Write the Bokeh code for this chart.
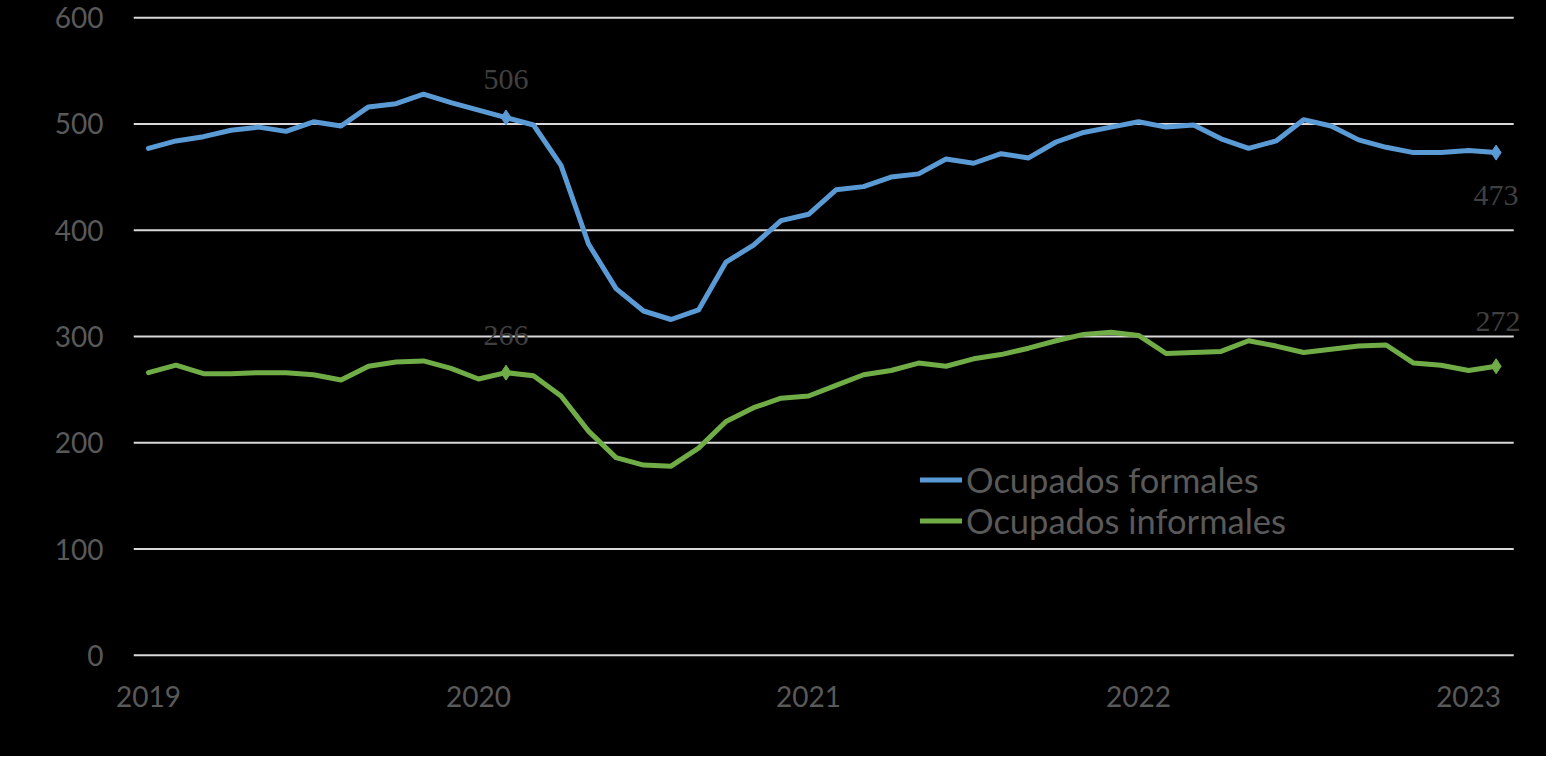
from bokeh.plotting import figure
from bokeh.models import FixedTicker, Legend, LegendItem, ColumnDataSource, LabelSet
from bokeh.embed import file_html
from bokeh.resources import INLINE

# Monthly data, Jan 2019 .. Feb 2023 (index 0..49)
formales = [477, 484, 488, 494, 497, 493, 502, 498, 516, 519, 528, 520, 513, 506,
            499, 461, 387, 345, 324, 316, 325, 370, 386, 409, 415, 438, 441, 450,
            453, 467, 463, 472, 468, 483, 492, 497, 502, 497, 499, 486, 477, 484,
            504, 498, 485, 478, 473, 473, 475, 473]
informales = [266, 273, 265, 265, 266, 266, 264, 259, 272, 276, 277, 270, 260, 266,
              263, 244, 211, 186, 179, 178, 195, 220, 233, 242, 244, 254, 264, 268,
              275, 272, 279, 283, 289, 296, 302, 304, 301, 284, 285, 286, 296, 291,
              285, 288, 291, 292, 275, 273, 268, 272]
months = list(range(len(formales)))
year_ticks = [0, 12, 24, 36, 48]
year_labels = ["2019", "2020", "2021", "2022", "2023"]
y_ticks = [0, 100, 200, 300, 400, 500, 600]
series_names = ["Ocupados formales", "Ocupados informales"]
marked_months = [13, 49]

BLUE = "#5B9BD5"
GREEN = "#70AD47"
FONT = "Lato"
GRID_X0, GRID_X1 = -0.545, 49.64

p = figure(width=1546, height=756, output_backend="svg", toolbar_location=None,
           x_range=(GRID_X0, 50.65), y_range=(-2, 602),
           min_border_left=133, min_border_right=5, min_border_top=15, min_border_bottom=99)
p.background_fill_color = "black"
p.border_fill_color = "black"
p.outline_line_color = None
p.styles = {"background-color": "black"}

p.xgrid.visible = False
p.ygrid.visible = False
# horizontal gridlines, ending where the reference's plot area ends
p.segment(x0=[GRID_X0] * len(y_ticks), y0=y_ticks, x1=[GRID_X1] * len(y_ticks), y1=y_ticks,
          line_color="#d9d9d9", line_width=2)

p.yaxis.ticker = FixedTicker(ticks=y_ticks)
p.xaxis.ticker = FixedTicker(ticks=year_ticks)
p.xaxis.major_label_overrides = {t: l for t, l in zip(year_ticks, year_labels)}
for ax in (p.xaxis, p.yaxis):
    ax.axis_line_color = None
    ax.major_tick_line_color = None
    ax.minor_tick_line_color = None
    ax.major_tick_out = 0
    ax.major_tick_in = 0
    ax.minor_tick_out = 0
    ax.major_label_text_color = "#595959"
    ax.major_label_text_font = FONT
    ax.major_label_text_font_size = "28px"
p.yaxis.major_label_standoff = 30
p.xaxis.major_label_standoff = 28

src = ColumnDataSource(dict(x=months, f=formales, i=informales))
r1 = p.line("x", "f", source=src, line_color=BLUE, line_width=5, line_join="round", line_cap="round")
r2 = p.line("x", "i", source=src, line_color=GREEN, line_width=5, line_join="round", line_cap="round")

mx = marked_months
p.scatter(mx, [formales[m] for m in mx], marker="diamond", size=15,
          fill_color=BLUE, line_color=BLUE)
p.scatter(mx, [informales[m] for m in mx], marker="diamond", size=15,
          fill_color=GREEN, line_color=GREEN)

lab_y = [formales[mx[0]], formales[mx[1]], informales[mx[0]], informales[mx[1]]]
lab_src = ColumnDataSource(dict(
    x=[mx[0], mx[1], mx[0], mx[1]],
    y=lab_y,
    t=[str(v) for v in lab_y],
    yo=[38, -43, 37, 45],
    xo=[0, 0, 0, 2],
))
labels = LabelSet(x="x", y="y", text="t", source=lab_src, x_offset="xo", y_offset="yo",
                  text_align="center", text_baseline="middle",
                  text_font=FONT, text_font_size="30px", text_color="#404040")
p.add_layout(labels)

legend = Legend(items=[LegendItem(label=series_names[0], renderers=[r1]),
                       LegendItem(label=series_names[1], renderers=[r2])],
                location=(787, 116), orientation="vertical")
legend.background_fill_alpha = 0
legend.border_line_color = None
legend.label_text_color = "#595959"
legend.label_text_font = FONT
legend.label_text_font_size = "34.5px"
legend.glyph_width = 42
legend.glyph_height = 41
legend.label_height = 41
legend.label_standoff = 4
legend.padding = 0
legend.margin = 0
legend.spacing = 0
p.add_layout(legend, "center")

open("out.html", "w").write(file_html(p, INLINE))
